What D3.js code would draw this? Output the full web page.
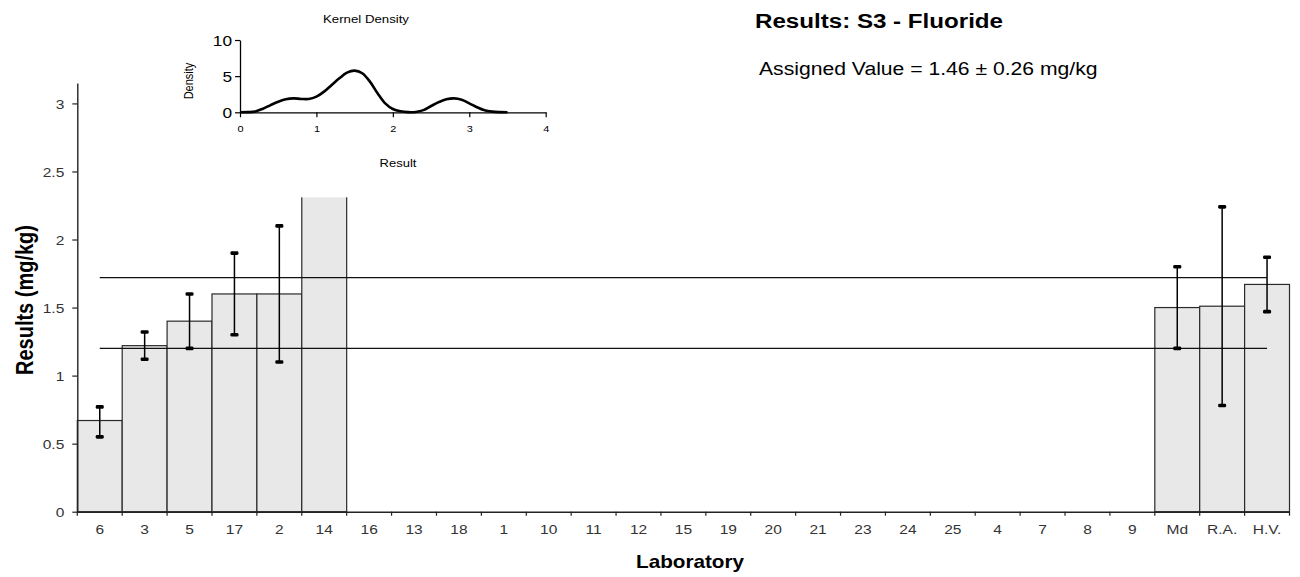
<!DOCTYPE html>
<html>
<head>
<meta charset="utf-8">
<script src="https://cdn.jsdelivr.net/npm/d3@7"></script>
<style>
  html, body { margin: 0; padding: 0; background: #fff; }
  svg { display: block; }
  text { font-family: "Liberation Sans", Arial, sans-serif; }
</style>
</head>
<body>
<svg id="chart" width="1300" height="577"></svg>
<script>
// Laboratory results for sample S3 (fluoride), in mg/kg
const labs = ["6","3","5","17","2","14","16","13","18","1","10","11","12","15","19","20","21","23","24","25","4","7","8","9","Md","R.A.","H.V."];
const results = [0.67, 1.22, 1.40, 1.60, 1.60, 2.84,
  null, null, null, null, null, null, null, null, null, null, null, null, null, null, null, null, null, null,
  1.50, 1.51, 1.67];
const lowerLimits = [0.55, 1.12, 1.20, 1.30, 1.10, null,
  null, null, null, null, null, null, null, null, null, null, null, null, null, null, null, null, null, null,
  1.20, 0.78, 1.47];
const upperLimits = [0.77, 1.32, 1.60, 1.90, 2.10, null,
  null, null, null, null, null, null, null, null, null, null, null, null, null, null, null, null, null, null,
  1.80, 2.24, 1.87];
const assignedValue = 1.46;
const uncertainty = 0.26;
const yTicks = [0, 0.5, 1, 1.5, 2, 2.5, 3];

// Kernel density estimate of the results
const kdResult = [0, 0.1, 0.2, 0.3, 0.4, 0.5, 0.6, 0.7, 0.8, 0.9, 1.0, 1.1, 1.2, 1.3, 1.4, 1.5, 1.6, 1.7, 1.8, 1.9,
  2.0, 2.1, 2.2, 2.3, 2.4, 2.5, 2.6, 2.7, 2.8, 2.9, 3.0, 3.1, 3.2, 3.3, 3.4, 3.5];
const kdDensity = [0, 0.02, 0.12, 0.5, 1.0, 1.45, 1.8, 1.93, 1.85, 1.84, 2.17, 2.86, 3.78, 4.7, 5.48, 5.76, 5.4, 4.24, 2.63, 1.24,
  0.46, 0.14, 0.02, 0.05, 0.3, 0.87, 1.4, 1.8, 1.93, 1.75, 1.24, 0.7, 0.28, 0.09, 0.02, 0];
const kdXTicks = [0, 1, 2, 3, 4];
const kdYTicks = [0, 5, 10];

const SX = 1.15; // horizontal stretch applied to all lettering
const svg = d3.select("#chart");

function label(g, x, y, str, opts = {}) {
  const t = g.append("text")
    .attr("transform", `translate(${x},${y}) scale(${SX},1)` + (opts.rotate ? ` rotate(${opts.rotate})` : ""))
    .attr("text-anchor", opts.anchor || "start")
    .attr("font-size", opts.size || 14)
    .attr("font-weight", opts.weight || "normal")
    .attr("fill", opts.fill || "#000")
    .text(str);
  return t;
}

// ---- main chart ----
const x = d3.scaleBand().domain(labs).range([77.3, 1289.5]).padding(0);
const y = d3.scaleLinear().domain([0, 3.15]).range([511.7, 83]);

const rows = labs.map((lab, i) => ({ lab, v: results[i], lo: lowerLimits[i], hi: upperLimits[i] }));

const main = svg.append("g");

// bars
main.selectAll("rect.bar")
  .data(rows.filter(d => d.v != null))
  .join("rect")
  .attr("class", "bar")
  .attr("x", d => x(d.lab))
  .attr("y", d => y(d.v))
  .attr("width", x.bandwidth())
  .attr("height", d => y(0) - y(d.v))
  .attr("fill", "#e8e8e8")
  .attr("stroke", "#2a2a2a")
  .attr("stroke-width", 1.2);

// assigned value ± uncertainty reference lines
const xFirst = x(labs[0]) + x.bandwidth() / 2;
const xLast = x(labs[labs.length - 1]) + x.bandwidth() / 2;
[assignedValue + uncertainty, assignedValue - uncertainty].forEach(v => {
  main.append("line")
    .attr("x1", xFirst).attr("x2", xLast)
    .attr("y1", y(v)).attr("y2", y(v))
    .attr("stroke", "#111").attr("stroke-width", 1.1);
});

// error bars
const errs = rows.filter(d => d.lo != null && d.hi != null);
const eg = main.selectAll("g.err").data(errs).join("g").attr("class", "err");
eg.append("line")
  .attr("x1", d => x(d.lab) + x.bandwidth() / 2)
  .attr("x2", d => x(d.lab) + x.bandwidth() / 2)
  .attr("y1", d => y(d.hi)).attr("y2", d => y(d.lo))
  .attr("stroke", "#000").attr("stroke-width", 1.5);
["hi", "lo"].forEach(k => {
  eg.append("rect")
    .attr("x", d => x(d.lab) + x.bandwidth() / 2 - 4)
    .attr("y", d => y(d[k]) - 1.8)
    .attr("width", 8).attr("height", 3.6)
    .attr("rx", 1.3)
    .attr("fill", "#000");
});

// y axis
const yAxis = main.append("g")
  .attr("transform", "translate(77.3,0)")
  .call(d3.axisLeft(y).tickValues(yTicks).tickSize(5).tickSizeOuter(0).tickFormat(d3.format("~g")));
yAxis.select(".domain").attr("stroke", "#222").attr("stroke-width", 1.4);
yAxis.selectAll(".tick line").attr("stroke", "#222").attr("stroke-width", 1.2);
yAxis.selectAll(".tick text")
  .attr("x", -13 / SX)
  .attr("dy", "0.35em")
  .attr("transform", `scale(${SX},1)`)
  .attr("font-size", 13.5)
  .attr("fill", "#333")
  .attr("font-family", "Liberation Sans, Arial, sans-serif");

// x axis: line, boundary ticks, centred labels
const xAxis = main.append("g")
  .attr("transform", `translate(0,${y(0)})`)
  .call(d3.axisBottom(x).tickSize(0).tickSizeOuter(0));
xAxis.select(".domain").attr("stroke", "#222").attr("stroke-width", 1.4);
xAxis.selectAll(".tick text")
  .attr("y", 0).attr("dy", 0)
  .attr("transform", `translate(0,22) scale(${SX},1)`)
  .attr("font-size", 13.5)
  .attr("fill", "#333")
  .attr("font-family", "Liberation Sans, Arial, sans-serif");
const bounds = labs.map(l => x(l)).concat([x.range()[1]]);
xAxis.selectAll("line.bt").data(bounds).join("line")
  .attr("class", "bt")
  .attr("x1", d => d).attr("x2", d => d)
  .attr("y1", 0).attr("y2", 4)
  .attr("stroke", "#222").attr("stroke-width", 1.2);

// axis titles
label(main, 690, 568, "Laboratory", { anchor: "middle", size: 18, weight: "bold" });
label(main, 33, 300, "Results (mg/kg)", { anchor: "middle", size: 20, weight: "bold", rotate: -90 });

// chart titles
label(main, 755, 28, "Results: S3 - Fluoride", { size: 21, weight: "bold" });
label(main, 759, 75, "Assigned Value = 1.46 ± 0.26 mg/kg", { size: 18.4 });

// ---- kernel density inset ----
const inset = svg.append("g");
inset.append("rect")
  .attr("x", 176).attr("y", 0).attr("width", 390).attr("height", 197.3)
  .attr("fill", "#fff");

const kx = d3.scaleLinear().domain([0, 4]).range([240, 545.7]);
const ky = d3.scaleLinear().domain([0, 10]).range([112.3, 40]);

const kxAxis = inset.append("g")
  .attr("transform", `translate(0,${ky(0)})`)
  .call(d3.axisBottom(kx).tickValues(kdXTicks).tickSize(5).tickSizeOuter(0).tickFormat(d3.format("d")));
kxAxis.select(".domain").attr("stroke", "#000").attr("stroke-width", 1.3);
kxAxis.selectAll(".tick line").attr("stroke", "#000").attr("stroke-width", 1.2);
kxAxis.selectAll(".tick text")
  .attr("y", 0).attr("dy", 0)
  .attr("transform", `translate(0,19.5) scale(${SX},1)`)
  .attr("font-size", 9.5)
  .attr("fill", "#000")
  .attr("font-family", "Liberation Sans, Arial, sans-serif");

const kyAxis = inset.append("g")
  .attr("transform", `translate(${kx(0)},0)`)
  .call(d3.axisLeft(ky).tickValues(kdYTicks).tickSize(5).tickSizeOuter(0).tickFormat(d3.format("d")));
kyAxis.select(".domain").attr("stroke", "#000").attr("stroke-width", 1.3);
kyAxis.selectAll(".tick line").attr("stroke", "#000").attr("stroke-width", 1.2);
kyAxis.selectAll(".tick text")
  .attr("x", -8 / SX)
  .attr("dy", "0.36em")
  .attr("transform", `scale(${SX},1)`)
  .attr("font-size", 15)
  .attr("fill", "#000")
  .attr("font-family", "Liberation Sans, Arial, sans-serif");

const kdPts = kdResult.map((r, i) => [r, kdDensity[i]]);
inset.append("path")
  .datum(kdPts)
  .attr("d", d3.line().x(d => kx(d[0])).y(d => ky(d[1])).curve(d3.curveCatmullRom))
  .attr("fill", "none")
  .attr("stroke", "#000")
  .attr("stroke-width", 2.6)
  .attr("stroke-linejoin", "round");

label(inset, 366, 22.5, "Kernel Density", { anchor: "middle", size: 11.5 });
label(inset, 398, 166.5, "Result", { anchor: "middle", size: 11.3 });
label(inset, 192.5, 81, "Density", { anchor: "middle", size: 11, rotate: -90 });
</script>
</body>
</html>
